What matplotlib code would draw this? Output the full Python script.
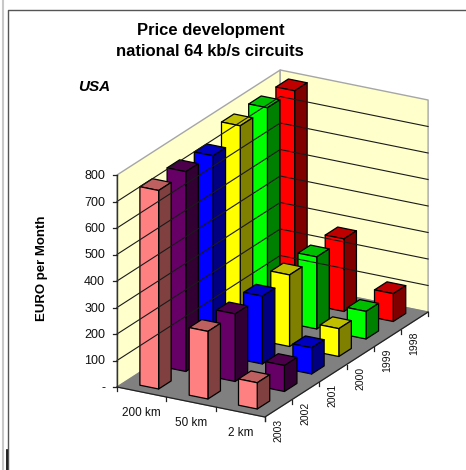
import matplotlib
matplotlib.use("Agg")
import matplotlib.pyplot as plt
from matplotlib.patches import Polygon

plt.rcParams['font.family'] = ['Liberation Sans', 'DejaVu Sans']

# rows go from front (2003) to back (1998)
years = ["2003", "2002", "2001", "2000", "1999", "1998"]
distances = ["200 km", "50 km", "2 km"]
prices_200 = [749, 754, 748, 795, 797, 795]
prices_50 = [255, 255, 256, 270, 272, 274]
prices_2 = [99, 98, 99, 105, 104, 105]
value_ticks = [0, 100, 200, 300, 400, 500, 600, 700, 800]
value_labels = ["-", "100", "200", "300", "400", "500", "600", "700", "800"]

front_colors = ["#FF8080", "#660066", "#0000FF", "#FFFF00", "#00FF00", "#FF0000"]
side_colors = ["#804040", "#330033", "#000080", "#808000", "#008000", "#800000"]
top_colors = ["#BF6060", "#4C004C", "#0000BF", "#BFBF00", "#00BF00", "#BF0000"]

WALL = "#FFFFCC"
FLOOR = "#808080"
EDGE = "#A6A6A6"


# oblique projection used by the chart: distance slot, year slot, price -> picture
def proj(d, y, v=0):
    px = 117 + 49.3 * d + 27.2 * y
    py = 387 + 10.0 * d - 17.5 * y - 212 / 800 * v
    return px, py


def face(ax, pts, color, lw=0.9, edge="black"):
    ax.add_patch(Polygon([proj(*p) for p in pts], closed=True, facecolor=color,
                         edgecolor=edge, linewidth=lw, joinstyle="round"))


def bar(ax, i, j, value):
    d0, d1 = i + 0.31, i + 0.69
    y0, y1 = j + 0.28, j + 0.74
    face(ax, [(d0, y0, value), (d1, y0, value), (d1, y1, value), (d0, y1, value)], top_colors[j])
    face(ax, [(d1, y0, 0), (d1, y1, 0), (d1, y1, value), (d1, y0, value)], side_colors[j])
    face(ax, [(d0, y0, 0), (d1, y0, 0), (d1, y0, value), (d0, y0, value)], front_colors[j])


fig = plt.figure(figsize=(4.66, 4.70), dpi=100)
ax = fig.add_axes([0, 0, 1, 1])
ax.set_xlim(0, 466)
ax.set_ylim(470, 0)
ax.axis("off")

# page frame
ax.plot([3, 3], [0, 470], color="#C8C8C8", lw=1.5)
ax.plot([8, 8, 466], [470, 10, 10], color="#555555", lw=1.0)
ax.plot([6.5, 6.5], [450, 470], color="black", lw=1.2)

n_d, n_y, top = len(distances), len(years), value_ticks[-1]

# walls and floor
face(ax, [(0, 0, 0), (0, n_y, 0), (0, n_y, top), (0, 0, top)], WALL, lw=1.0, edge=EDGE)
face(ax, [(0, n_y, 0), (n_d, n_y, 0), (n_d, n_y, top), (0, n_y, top)], WALL, lw=1.0, edge=EDGE)
face(ax, [(0, 0, 0), (n_d, 0, 0), (n_d, n_y, 0), (0, n_y, 0)], FLOOR, lw=0.8, edge=FLOOR)

for v in value_ticks[1:-1]:
    xs, ys = zip(proj(0, 0, v), proj(0, n_y, v), proj(n_d, n_y, v))
    ax.plot(xs, ys, color="#1A1A1A", lw=0.8)

# axes lines and ticks
xs, ys = zip(proj(0, 0, 0), proj(0, 0, top))
ax.plot(xs, ys, color="#333333", lw=1.0)
xs, ys = zip(proj(0, 0, 0), proj(n_d, 0, 0), proj(n_d, n_y, 0))
ax.plot(xs, ys, color="#222222", lw=0.9)

for v, lab in zip(value_ticks, value_labels):
    px, py = proj(0, 0, v)
    ax.plot([px - 4, px], [py, py], color="#222222", lw=0.9)
    ax.text(px - 12, py + 1, lab, ha="right", va="center", fontsize=9, color="#111111")

for i in range(n_d + 1):
    px, py = proj(i, 0)
    ax.plot([px, px], [py, py + 4], color="#222222", lw=0.9)
for j in range(n_y + 1):
    px, py = proj(n_d, j)
    ax.plot([px, px], [py, py + 4], color="#222222", lw=0.9)

for i, lab in enumerate(distances):
    px, py = proj(i + 0.5, 0)
    ax.text(px, py + 21, lab, ha="center", va="center", fontsize=8.5, color="#111111")
for j, lab in enumerate(years):
    px, py = proj(n_d, j + 0.5)
    ax.text(px, py + 22.5, lab, ha="center", va="center", rotation=90, fontsize=7.5, color="#111111")

# back rows first, and 200 km before the nearer 2 km bars
for j in range(n_y - 1, -1, -1):
    for i, prices in enumerate([prices_200, prices_50, prices_2]):
        bar(ax, i, j, prices[j])

ax.text(211, 30, "Price development", ha="center", va="center", fontsize=12, fontweight="bold")
ax.text(210, 51, "national 64 kb/s circuits", ha="center", va="center", fontsize=12, fontweight="bold")
ax.text(94, 87, "USA", ha="center", va="center", fontsize=11, fontweight="bold", fontstyle="italic")
ax.text(42, 268, "EURO per Month", ha="center", va="center", rotation=90, fontsize=9.5, fontweight="bold")

fig.savefig("out.png", dpi=100)
